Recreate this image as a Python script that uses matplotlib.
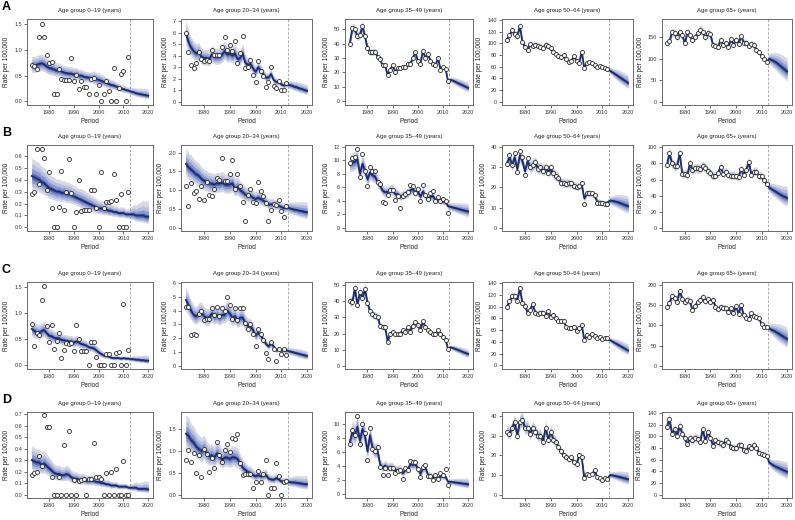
import numpy as np
import matplotlib
matplotlib.use("Agg")
import matplotlib.pyplot as plt

plt.rcParams['font.family'] = ['Liberation Sans', 'DejaVu Sans']

# ---- data ----
years_obs = np.arange(1973, 2013)
years_fit = np.arange(1973, 2021)
proj_start = 2012.5
age_groups = ['0–19', '20–34', '35–49', '50–64', '65+']
row_letters = ['A', 'B', 'C', 'D']
xticks = [1980, 1990, 2000, 2010, 2020]

# row A
a1_obs = [0.71, 0.68, 0.62, 1.26, 1.51, 1.25, 0.90, 0.75, 0.77, 0.15,
          0.15, 0.62, 0.43, 0.42, 0.42, 0.41, 0.84, 0.40, 0.51, 0.25,
          0.40, 0.28, 0.28, 0.14, 0.43, 0.45, 0.14, 0.31, 0.00, 0.15,
          0.40, 0.20, 0.00, 0.65, 0.00, 0.26, 0.54, 0.59, 0.00, 0.86]
a1_fit = [0.70, 0.70, 0.71, 0.73, 0.74, 0.72, 0.68, 0.65, 0.64, 0.62,
          0.60, 0.60, 0.58, 0.56, 0.55, 0.54, 0.54, 0.52, 0.53, 0.50,
          0.50, 0.48, 0.47, 0.46, 0.46, 0.45, 0.43, 0.42, 0.40, 0.38,
          0.36, 0.34, 0.32, 0.31, 0.29, 0.27, 0.25, 0.24, 0.22, 0.21,
          0.19, 0.18, 0.16, 0.15, 0.14, 0.13, 0.12, 0.11]
a1_w = [0.22] * 25 + [0.28] * 15 + [0.36, 0.42, 0.48, 0.54, 0.60, 0.66, 0.72, 0.78]

a2_obs = [5.98, 4.28, 3.18, 2.89, 3.38, 4.3, 3.7, 3.5, 3.6, 3.5,
          4.5, 4.1, 4.1, 4.1, 4.8, 5.6, 4.5, 4.9, 4.4, 5.3,
          3.4, 4.2, 5.7, 2.9, 3.0, 3.6, 2.3, 1.7, 3.5, 2.7,
          2.2, 1.3, 1.7, 3.0, 1.4, 1.2, 1.8, 1.0, 1.0, 1.6]
a2_fit = [5.9, 5.2, 4.7, 4.4, 4.2, 4.3, 3.9, 3.8, 3.8, 3.7,
          4.1, 3.9, 3.9, 3.9, 4.1, 4.4, 4.1, 4.2, 4.0, 4.2,
          3.7, 3.8, 4.2, 3.4, 3.2, 3.3, 2.9, 2.6, 3.0, 2.7,
          2.4, 2.1, 2.1, 2.4, 1.9, 1.7, 1.7, 1.5, 1.4, 1.5,
          1.45, 1.4, 1.3, 1.25, 1.15, 1.1, 1.0, 0.95]
a2_w = [0.18] * 40 + [0.22, 0.26, 0.30, 0.33, 0.36, 0.39, 0.42, 0.45]

a3_obs = [40, 50.5, 50, 45, 46, 52, 45, 37, 34, 34,
          34.5, 31, 29, 25, 25, 18, 22, 25, 20.5, 23,
          23, 24, 23.5, 26, 26, 30, 34, 28, 26, 35,
          30, 33, 28, 26, 25, 30, 22, 23.5, 22.5, 14]
a3_proj = [15, 14.3, 13.5, 12.6, 11.8, 11.0, 10.1, 9.3]
a3_w = [0.07] * 40 + [0.12, 0.16, 0.20, 0.23, 0.26, 0.29, 0.32, 0.35]

a4_obs = [106, 114, 123, 116, 112, 130, 103, 93, 88, 99,
          96, 98, 96, 94, 92, 98, 96, 92, 86, 82,
          78, 76, 80, 74, 68, 70, 78, 70, 66, 86,
          57, 67, 68, 66, 63, 59, 61, 60, 58, 56]
a4_proj = [53, 50, 47, 44, 41, 38, 35, 32]
a4_w = [0.06] * 40 + [0.10, 0.14, 0.18, 0.22, 0.26, 0.29, 0.32, 0.35]

a5_obs = [137, 141, 162, 160, 150, 162, 155, 136, 162, 155,
          143, 150, 160, 168, 163, 150, 160, 157, 133, 130,
          128, 145, 132, 137, 128, 146, 133, 145, 135, 153,
          138, 137, 130, 135, 133, 120, 115, 107, 100, 93]
a5_proj = [100, 97, 94, 90, 85, 80, 75, 70]
a5_w = [0.06] * 40 + [0.12, 0.16, 0.20, 0.24, 0.28, 0.31, 0.34, 0.37]

# row B
b1_obs = [0.28, 0.30, 0.66, 0.36, 0.66, 0.58, 0.31, 0.46, 0.16, 0.00,
          0.00, 0.17, 0.47, 0.15, 0.30, 0.57, 0.29, 0.00, 0.13, 0.40,
          0.14, 0.15, 0.15, 0.15, 0.31, 0.31, 0.16, 0.00, 0.46, 0.16,
          0.21, 0.21, 0.22, 0.45, 0.23, 0.00, 0.28, 0.00, 0.00, 0.30]
b1_fit = [0.43, 0.42, 0.41, 0.40, 0.38, 0.37, 0.35, 0.33, 0.32, 0.31,
          0.30, 0.30, 0.29, 0.29, 0.28, 0.28, 0.27, 0.26, 0.25, 0.24,
          0.23, 0.22, 0.21, 0.20, 0.19, 0.18, 0.17, 0.16, 0.16, 0.15,
          0.15, 0.14, 0.14, 0.13, 0.13, 0.12, 0.12, 0.12, 0.11, 0.11,
          0.11, 0.11, 0.10, 0.10, 0.10, 0.10, 0.09, 0.09]
b1_w = [0.30] * 20 + [0.35] * 20 + [0.45, 0.55, 0.62, 0.70, 0.76, 0.82, 0.88, 0.94]

b2_obs = [1.12, 0.58, 1.20, 0.92, 0.97, 0.76, 1.12, 0.73, 1.22, 0.87,
          0.85, 1.04, 1.32, 1.27, 1.85, 1.24, 1.24, 1.42, 1.80, 1.02,
          1.42, 1.12, 0.68, 0.18, 0.87, 1.03, 0.67, 0.65, 1.22, 0.97,
          0.83, 0.66, 0.17, 0.48, 0.63, 0.60, 0.73, 0.43, 0.28, 0.58]
b2_fit = [1.70, 1.60, 1.55, 1.48, 1.42, 1.38, 1.30, 1.25, 1.22, 1.18,
          1.17, 1.15, 1.18, 1.17, 1.20, 1.15, 1.14, 1.15, 1.18, 1.05,
          1.08, 1.00, 0.95, 0.88, 0.86, 0.85, 0.80, 0.76, 0.80, 0.76,
          0.72, 0.68, 0.62, 0.62, 0.62, 0.60, 0.58, 0.55, 0.52, 0.53,
          0.52, 0.50, 0.48, 0.47, 0.45, 0.44, 0.42, 0.41]
b2_w = [0.22] * 40 + [0.27, 0.31, 0.35, 0.38, 0.42, 0.45, 0.48, 0.52]

b3_obs = [9.6, 10.3, 10.5, 11.7, 7.5, 11.0, 8.5, 6.2, 9.0, 8.4,
          8.4, 6.8, 6.5, 3.8, 3.7, 4.8, 5.6, 5.6, 4.1, 4.7,
          2.9, 4.7, 5.0, 5.3, 6.3, 6.2, 5.2, 5.8, 3.9, 6.4,
          4.8, 4.2, 5.1, 5.4, 4.0, 4.6, 4.0, 4.3, 4.0, 2.2]
b3_fit = [9.5, 9.7, 9.8, 10.2, 8.0, 9.5, 8.5, 7.2, 8.2, 7.8,
          7.6, 6.8, 6.3, 5.5, 5.3, 5.3, 5.6, 5.6, 5.0, 5.0,
          4.6, 4.8, 5.0, 5.1, 5.6, 5.7, 5.3, 5.4, 4.6, 5.4,
          4.7, 4.3, 4.6, 4.7, 4.1, 4.2, 4.0, 3.9, 3.8, 3.2,
          3.1, 3.0, 2.9, 2.8, 2.7, 2.6, 2.5, 2.4]
b3_w = [0.14] * 40 + [0.18, 0.22, 0.25, 0.28, 0.31, 0.34, 0.37, 0.40]

b4_obs = [31.5, 36, 31, 37, 27.5, 38, 35, 26, 34.5, 30,
          31, 32.5, 29, 30, 28, 30, 27, 30, 27, 25.5,
          24.5, 22, 22, 21.5, 22, 22, 20.5, 20, 20.5, 22,
          12, 17, 17, 17, 16, 12.5, 12.5, 12.5, 12, 12]
b4_fit = [32, 35, 31, 35, 29, 36, 33, 28, 33, 30,
          31, 32, 29.5, 29.5, 28.5, 29, 28, 29, 27, 25.5,
          24.5, 22.5, 22, 22, 22, 21.8, 20.7, 20.3, 20.5, 21.5,
          14.5, 17, 17, 16.8, 16, 13, 12.8, 12.6, 12.3, 12.5,
          13.5, 13.3, 13, 12.7, 12.2, 11.7, 11.2, 10.7]
b4_w = [0.10] * 40 + [0.14, 0.18, 0.22, 0.26, 0.30, 0.33, 0.36, 0.40]

b5_obs = [78, 93, 80, 77, 77, 93, 67, 67, 66, 80,
          72, 74, 74, 73, 77, 75, 71, 68, 64, 65,
          68, 76, 67, 70, 66, 65, 65, 64, 63, 73,
          66, 72, 82, 66, 70, 70, 64, 65, 59, 55]
b5_proj = [50, 48, 46, 44, 42, 40, 38.5, 37]
b5_w = [0.08] * 40 + [0.12, 0.15, 0.18, 0.21, 0.24, 0.27, 0.30, 0.33]

# row C
c1_obs = [0.80, 0.38, 0.62, 0.58, 1.25, 1.52, 0.75, 0.44, 0.77, 0.32,
          0.47, 0.62, 0.15, 0.29, 0.42, 0.41, 0.42, 0.27, 0.77, 0.50,
          0.27, 0.28, 0.28, 0.00, 0.44, 0.45, 0.16, 0.00, 0.00, 0.00,
          0.21, 0.21, 0.00, 0.00, 0.23, 0.26, 0.00, 1.18, 0.00, 0.29]
c1_fit = [0.70, 0.66, 0.64, 0.63, 0.66, 0.68, 0.62, 0.57, 0.56, 0.53,
          0.52, 0.52, 0.49, 0.48, 0.47, 0.46, 0.46, 0.44, 0.46, 0.44,
          0.41, 0.40, 0.38, 0.35, 0.34, 0.33, 0.29, 0.25, 0.22, 0.19,
          0.18, 0.17, 0.15, 0.14, 0.14, 0.14, 0.13, 0.14, 0.13, 0.13,
          0.12, 0.12, 0.11, 0.11, 0.10, 0.10, 0.09, 0.09]
c1_w = [0.22] * 25 + [0.30] * 15 + [0.38, 0.45, 0.52, 0.58, 0.64, 0.70, 0.76, 0.82]

c2_obs = [4.3, 4.3, 2.2, 2.3, 2.2, 3.8, 4.0, 3.3, 3.4, 3.4,
          4.2, 3.7, 4.3, 3.6, 4.2, 4.0, 5.0, 4.4, 3.4, 4.2,
          3.3, 4.2, 4.2, 3.1, 2.7, 3.0, 2.3, 1.4, 2.7, 2.3,
          1.9, 0.9, 0.5, 1.7, 1.2, 0.3, 1.2, 0.85, 1.2, 0.75]
c2_fit = [4.8, 4.4, 4.0, 3.7, 3.6, 3.8, 3.9, 3.6, 3.5, 3.5,
          3.8, 3.6, 3.7, 3.5, 3.7, 3.7, 4.0, 3.8, 3.5, 3.6,
          3.3, 3.5, 3.5, 3.1, 2.9, 2.9, 2.6, 2.2, 2.4, 2.2,
          1.9, 1.6, 1.4, 1.6, 1.4, 1.1, 1.2, 1.1, 1.1, 1.1,
          1.05, 1.0, 0.95, 0.9, 0.85, 0.8, 0.75, 0.7]
c2_w = [0.18] * 40 + [0.22, 0.26, 0.30, 0.33, 0.36, 0.39, 0.42, 0.45]

c3_obs = [40, 39.5, 48, 38, 45.5, 42, 47.5, 39, 34, 32,
          31, 30.5, 25, 24, 24, 15, 20, 21, 19.5, 19.5,
          20, 22, 21, 24, 21, 25, 27, 25.5, 22, 27.5,
          24, 22, 21, 19.5, 19.5, 22, 19.5, 18, 16, 10.5]
c3_proj = [11.5, 11, 10.4, 9.8, 9.2, 8.5, 7.9, 7.3]
c3_w = [0.08] * 40 + [0.12, 0.16, 0.19, 0.22, 0.25, 0.28, 0.31, 0.34]

c4_obs = [100, 109, 118, 118, 110, 132, 106, 102, 90, 95,
          104, 90, 88, 90, 90, 85, 92, 83, 86, 80,
          76, 76, 75, 66, 64, 64, 66, 58, 64, 69,
          44, 51, 49, 53, 50, 47, 49, 45, 46, 46]
c4_proj = [43, 40.5, 38, 35.5, 33, 30.5, 28, 25.5]
c4_w = [0.06] * 40 + [0.10, 0.14, 0.18, 0.22, 0.26, 0.29, 0.32, 0.35]

c5_obs = [145, 155, 172, 168, 158, 185, 165, 157, 163, 160,
          137, 148, 157, 162, 170, 160, 165, 158, 163, 145,
          140, 145, 143, 143, 133, 142, 130, 148, 128, 150,
          125, 117, 115, 130, 123, 120, 118, 102, 97, 97]
c5_proj = [92, 89, 86, 82, 78, 74, 70, 66]
c5_w = [0.06] * 40 + [0.12, 0.16, 0.20, 0.24, 0.28, 0.31, 0.34, 0.37]

# row D
d1_obs = [0.17, 0.19, 0.20, 0.34, 0.25, 0.69, 0.59, 0.59, 0.15, 0.00,
          0.00, 0.15, 0.00, 0.43, 0.00, 0.55, 0.00, 0.13, 0.00, 0.12,
          0.13, 0.14, 0.00, 0.14, 0.14, 0.45, 0.15, 0.15, 0.14, 0.00,
          0.19, 0.00, 0.20, 0.00, 0.22, 0.00, 0.00, 0.29, 0.00, 0.00]
d1_fit = [0.30, 0.29, 0.28, 0.28, 0.26, 0.27, 0.25, 0.23, 0.21, 0.19,
          0.18, 0.18, 0.17, 0.17, 0.18, 0.17, 0.15, 0.14, 0.14, 0.13,
          0.13, 0.13, 0.12, 0.12, 0.12, 0.12, 0.11, 0.11, 0.10, 0.10,
          0.09, 0.09, 0.08, 0.08, 0.08, 0.07, 0.07, 0.07, 0.07, 0.06,
          0.06, 0.06, 0.06, 0.05, 0.05, 0.05, 0.05, 0.045]
d1_w = [0.35] * 40 + [0.45, 0.55, 0.62, 0.70, 0.76, 0.82, 0.88, 0.94]

d2_obs = [0.80, 1.03, 0.76, 0.96, 0.50, 0.91, 0.41, 1.05, 0.93, 0.53,
          0.85, 0.61, 1.20, 0.90, 0.75, 1.02, 1.17, 0.97, 1.30, 1.27,
          1.40, 0.72, 0.46, 0.48, 0.48, 0.47, 0.15, 0.29, 0.55, 0.29,
          0.48, 0.79, 0.00, 0.16, 0.16, 0.72, 0.43, 0.00, 0.29, 0.30]
d2_fit = [1.40, 1.35, 1.25, 1.20, 1.10, 1.05, 1.00, 1.05, 0.95, 0.88,
          0.90, 0.85, 0.95, 0.88, 0.80, 0.85, 0.85, 0.82, 0.86, 0.85,
          0.82, 0.72, 0.62, 0.57, 0.52, 0.50, 0.45, 0.42, 0.45, 0.42,
          0.43, 0.45, 0.37, 0.35, 0.34, 0.38, 0.35, 0.30, 0.30, 0.30,
          0.29, 0.28, 0.28, 0.27, 0.26, 0.25, 0.24, 0.24]
d2_w = [0.27] * 40 + [0.33, 0.38, 0.43, 0.47, 0.51, 0.55, 0.58, 0.62]

d3_obs = [7.2, 9.2, 8.5, 11.1, 7.2, 10.0, 8.7, 4.9, 9.5, 6.4,
          6.1, 6.8, 3.9, 2.8, 3.7, 2.8, 3.7, 3.7, 3.1, 3.4,
          3.5, 2.2, 3.7, 3.5, 4.8, 4.6, 4.6, 3.6, 2.5, 3.9,
          4.2, 2.6, 2.6, 2.0, 2.8, 2.2, 3.0, 2.8, 3.6, 1.3]
d3_fit = [7.5, 8.8, 8.4, 9.6, 7.6, 9.3, 8.3, 6.1, 8.4, 6.6,
          6.1, 6.2, 4.3, 3.8, 4.1, 3.8, 3.9, 3.8, 3.4, 3.5,
          3.5, 3.0, 3.5, 3.5, 4.3, 4.2, 4.3, 3.7, 2.9, 3.7,
          3.8, 2.8, 2.7, 2.4, 2.6, 2.3, 2.6, 2.5, 2.5, 1.8,
          1.8, 1.75, 1.7, 1.65, 1.6, 1.55, 1.5, 1.45]
d3_w = [0.17] * 40 + [0.22, 0.26, 0.30, 0.34, 0.37, 0.40, 0.43, 0.46]

d4_obs = [32, 31, 34, 37, 30, 37, 38, 34, 34, 31,
          34, 32, 30, 30, 27, 34, 28, 32, 28, 27,
          24, 22, 20, 19, 18, 19, 16.5, 15.5, 20, 19,
          8.5, 10.5, 10, 10.5, 12.5, 9, 8.5, 7.5, 8.5, 8]
d4_proj = [10, 9.8, 9.5, 9.2, 8.9, 8.5, 8.2, 7.8]
d4_w = [0.10] * 40 + [0.14, 0.18, 0.22, 0.26, 0.30, 0.33, 0.36, 0.40]

d5_obs = [117, 130, 105, 112, 101, 118, 105, 97, 87, 97,
          93, 98, 96, 91, 113, 92, 108, 98, 84, 93,
          90, 88, 86, 94, 91, 82, 80, 80, 85, 85,
          76, 75, 83, 80, 86, 80, 72, 70, 68, 67]
d5_proj = [55, 52, 49, 47, 45, 43, 41, 39]
d5_w = [0.08] * 40 + [0.12, 0.16, 0.20, 0.24, 0.27, 0.30, 0.33, 0.36]

# y ticks per panel
yticks = {
    'A': [[0, 0.5, 1.0, 1.5], list(range(0, 8)), list(range(0, 51, 10)),
          list(range(0, 141, 20)), [0, 50, 100, 150]],
    'B': [[0, 0.1, 0.2, 0.3, 0.4, 0.5, 0.6], [0, 0.5, 1.0, 1.5, 2.0], list(range(0, 13, 2)),
          [0, 10, 20, 30, 40], list(range(0, 101, 20))],
    'C': [[0, 0.5, 1.0, 1.5], list(range(0, 7)), list(range(0, 51, 10)),
          list(range(0, 141, 20)), [0, 50, 100, 150, 200]],
    'D': [[0, 0.1, 0.2, 0.3, 0.4, 0.5, 0.6, 0.7], [0, 0.5, 1.0, 1.5], list(range(0, 11, 2)),
          [0, 10, 20, 30, 40], list(range(0, 141, 20))],
}
ylims = {
    'A': [(-0.07, 1.6), (-0.3, 7.2), (-2.5, 57), (-6, 142), (-8, 193)],
    'B': [(-0.03, 0.69), (-0.09, 2.2), (-0.5, 12.3), (-1.6, 41), (-4, 103)],
    'C': [(-0.07, 1.6), (-0.25, 6.1), (-2, 52), (-6, 142), (-8, 207)],
    'D': [(-0.03, 0.72), (-0.08, 1.9), (-0.5, 11.7), (-1.7, 42), (-6, 142)],
}
ydec_row = {'A': [1, 0, 0, 0, 0], 'B': [1, 1, 0, 0, 0], 'C': [1, 0, 0, 0, 0], 'D': [1, 1, 0, 0, 0]}

panels = {
    'A': [(a1_obs, a1_fit, a1_w), (a2_obs, a2_fit, a2_w), (a3_obs, a3_obs + a3_proj, a3_w),
          (a4_obs, a4_obs + a4_proj, a4_w), (a5_obs, a5_obs + a5_proj, a5_w)],
    'B': [(b1_obs, b1_fit, b1_w), (b2_obs, b2_fit, b2_w), (b3_obs, b3_fit, b3_w),
          (b4_obs, b4_fit, b4_w), (b5_obs, b5_obs + b5_proj, b5_w)],
    'C': [(c1_obs, c1_fit, c1_w), (c2_obs, c2_fit, c2_w), (c3_obs, c3_obs + c3_proj, c3_w),
          (c4_obs, c4_obs + c4_proj, c4_w), (c5_obs, c5_obs + c5_proj, c5_w)],
    'D': [(d1_obs, d1_fit, d1_w), (d2_obs, d2_fit, d2_w), (d3_obs, d3_fit, d3_w),
          (d4_obs, d4_obs + d4_proj, d4_w), (d5_obs, d5_obs + d5_proj, d5_w)],
}

# ---- layout (pixels) ----
W, H = 795, 520
col_lr = [(27, 153), (181, 312), (345, 473), (502, 633), (662, 792)]
row_tb = [(19, 105), (145, 231), (282, 369), (412, 498)]

band_levels = [1.0, 0.72, 0.46, 0.22]
band_colors = ['#d7d9df', '#b4bee0', '#8797cf', '#5568b4']
line_color = '#1c2c6e'

fig = plt.figure(figsize=(W / 100, H / 100), dpi=100)

for r, letter in enumerate(row_letters):
    top, bot = row_tb[r]
    fig.text(2 / W, 1 - (top - 12) / H, letter, fontsize=9, fontweight='bold', va='center', ha='left')
    for c, group in enumerate(age_groups):
        left, right = col_lr[c]
        ax = fig.add_axes([left / W, 1 - bot / H, (right - left) / W, (bot - top) / H])
        obs, fit, w = panels[letter][c]
        fit = np.array(fit, dtype=float)
        w = np.array(w, dtype=float)
        for k, col in zip(band_levels, band_colors):
            ax.fill_between(years_fit, fit * np.exp(-w * k), fit * np.exp(w * k),
                            color=col, lw=0, zorder=1)
        ax.plot(years_fit, fit, color=line_color, lw=1.3, zorder=3)
        ax.plot(years_obs, obs, 'o', ms=2.9, mfc='white', mec='#2a2a2a', mew=0.6, zorder=4)
        ax.axvline(proj_start, color='#9a9a9a', lw=0.6, ls=(0, (3, 2)), zorder=2)

        ax.set_xlim(1971.1, 2021.9)
        ax.set_ylim(*ylims[letter][c])
        ax.set_xticks(xticks)
        ax.set_xticklabels([str(x) for x in xticks])
        yt = yticks[letter][c]
        ax.set_yticks(yt)
        d = ydec_row[letter][c]
        ax.set_yticklabels([f'{v:.{d}f}' for v in yt])
        ax.tick_params(labelsize=4.0, length=2, width=0.5, pad=1.5, colors='#333333')
        for s in ax.spines.values():
            s.set_color('#6a6a6a')
            s.set_linewidth(0.7)
        ax.set_title(f'Age group {group} (years)', fontsize=4.3, pad=5, color='#222222')
        ax.set_xlabel('Period', fontsize=4.7, labelpad=2.5, color='#222222')
        ax.set_ylabel('Rate per 100,000', fontsize=4.7, labelpad=3, color='#222222')

fig.savefig('out.png', dpi=100)
